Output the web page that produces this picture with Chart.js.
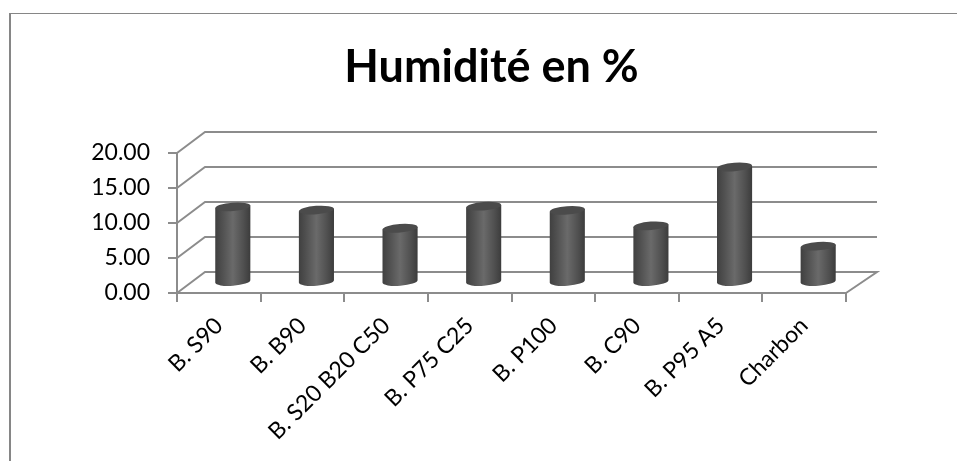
<!DOCTYPE html>
<html lang="fr">
<head>
<meta charset="utf-8">
<title>Humidité en %</title>
<script src="https://cdn.jsdelivr.net/npm/chart.js@4"></script>
<style>
  html, body { margin: 0; padding: 0; background: #fff; overflow: hidden; }
  #wrap { position: relative; width: 957px; height: 461px; }
  #frame { position: absolute; left: 9px; top: 13px; right: -4px; bottom: -4px;
           border-left: 2px solid #868686; border-top: 1.5px solid #868686; }
  canvas { position: absolute; left: 0; top: 0; }
</style>
</head>
<body>
<div id="wrap">
  <div id="frame"></div>
  <canvas id="chart" width="957" height="461"></canvas>
</div>
<script>
const categories = ["B. S90", "B. B90", "B. S20 B20 C50", "B. P75 C25", "B. P100", "B. C90", "B. P95 A5", "Charbon"];
const humidity = [10.8, 10.35, 7.75, 10.9, 10.3, 8.1, 16.5, 5.2];
const chartTitle = "Humidité en %";

const AXIS_GREY = "#8c8c8c";
const AXIS_WIDTH = 2;
const FONT = "Lato, 'Open Sans', sans-serif";
// Oblique offset of the rear wall relative to the front plane.
const WALL_DX_LEFT = 28, WALL_DX_RIGHT = 31, WALL_DY = -21;

// Wall gridlines and floor edge, following the value axis ticks.
const wallGrid = {
  id: "wallGrid",
  beforeDatasetsDraw(chart) {
    const { ctx, chartArea: a, scales: { y } } = chart;
    ctx.save();
    ctx.strokeStyle = AXIS_GREY;
    ctx.lineWidth = AXIS_WIDTH;
    y.ticks.forEach(t => {
      const py = y.getPixelForValue(t.value);
      ctx.beginPath();
      ctx.moveTo(a.left, py);
      ctx.lineTo(a.left + WALL_DX_LEFT, py + WALL_DY);
      ctx.lineTo(a.right + WALL_DX_RIGHT, py + WALL_DY);
      if (t.value === 0) ctx.lineTo(a.right, py);
      ctx.stroke();
    });
    ctx.restore();
  }
};

// Paints each bar element as a shaded cylinder standing mid-depth on the floor.
const cylinders = {
  id: "cylinders",
  afterDatasetsDraw(chart) {
    const { ctx } = chart;
    const tilt = -0.075, ry = 4.2;
    chart.getDatasetMeta(0).data.forEach(bar => {
      const cx = bar.x + WALL_DX_LEFT / 2;
      const top = bar.y + WALL_DY / 2;
      const base = bar.base + WALL_DY / 2;
      const rx = bar.width / 2;
      const lift = Math.sin(tilt) * rx;

      const body = ctx.createLinearGradient(cx - rx, 0, cx + rx, 0);
      body.addColorStop(0, "#404040");
      body.addColorStop(0.2, "#505050");
      body.addColorStop(0.5, "#6a6a6a");
      body.addColorStop(0.8, "#505050");
      body.addColorStop(1, "#3c3c3c");

      ctx.save();
      ctx.fillStyle = body;
      ctx.beginPath();
      ctx.moveTo(cx - rx, top - lift);
      ctx.lineTo(cx - rx, base - lift);
      ctx.ellipse(cx, base, rx, ry, tilt, Math.PI, 0, true);
      ctx.lineTo(cx + rx, top + lift);
      ctx.closePath();
      ctx.fill();

      ctx.fillStyle = "#4b4b4b";
      ctx.beginPath();
      ctx.ellipse(cx, top, rx, ry, tilt, 0, Math.PI * 2);
      ctx.fill();
      ctx.restore();
    });
  }
};

// Centres the title over the frame instead of the full canvas.
const titlePlacement = {
  id: "titlePlacement",
  afterLayout(chart) {
    chart.titleBlock.left = 26;
    chart.titleBlock.right = 957;
  }
};

new Chart(document.getElementById("chart"), {
  type: "bar",
  data: {
    labels: categories,
    datasets: [{
      label: chartTitle,
      data: humidity,
      backgroundColor: "rgba(0,0,0,0)",
      borderWidth: 0,
      barPercentage: 0.42,
      categoryPercentage: 1
    }]
  },
  options: {
    responsive: false,
    animation: false,
    layout: { padding: { left: 0, right: 111, top: 0, bottom: 0 } },
    plugins: {
      legend: { display: false },
      tooltip: { enabled: false },
      title: {
        display: true,
        text: chartTitle,
        color: "#000",
        font: { family: FONT, size: 45, weight: "bold", lineHeight: 1.2 },
        padding: { top: 40, bottom: 59 }
      }
    },
    scales: {
      x: {
        offset: true,
        afterFit(s) { s.height = 168; },
        border: { color: AXIS_GREY, width: AXIS_WIDTH },
        grid: { drawOnChartArea: false, drawTicks: true, tickLength: 9, color: AXIS_GREY, lineWidth: AXIS_WIDTH, offset: true },
        ticks: {
          color: "#000",
          font: { family: FONT, size: 23 },
          minRotation: 45,
          maxRotation: 45,
          autoSkip: false,
          padding: 10
        }
      },
      y: {
        min: 0,
        max: 20,
        afterFit(s) { s.width = 177; },
        border: { color: AXIS_GREY, width: AXIS_WIDTH },
        grid: { drawOnChartArea: false, drawTicks: true, tickLength: 9, color: AXIS_GREY, lineWidth: AXIS_WIDTH },
        ticks: {
          stepSize: 5,
          color: "#000",
          font: { family: FONT, size: 23 },
          padding: 18,
          callback: v => Number(v).toFixed(2)
        }
      }
    }
  },
  plugins: [wallGrid, cylinders, titlePlacement]
});
</script>
</body>
</html>
